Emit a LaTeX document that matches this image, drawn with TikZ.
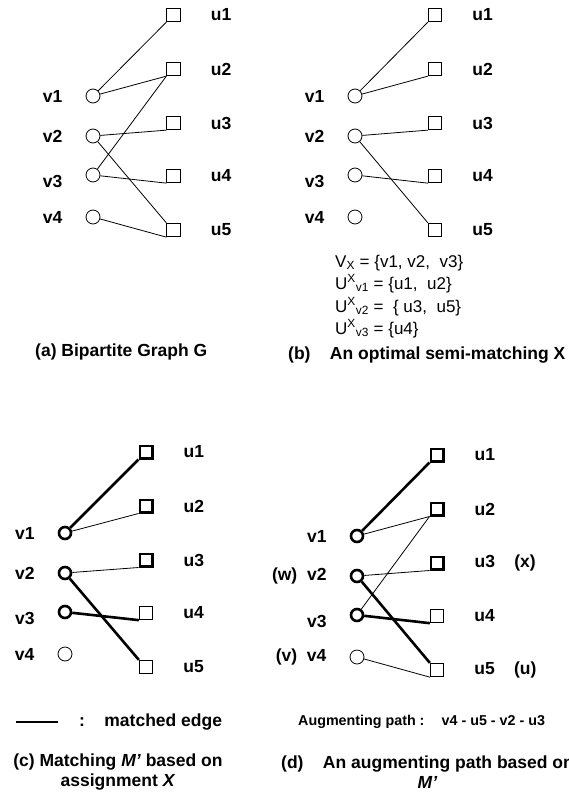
\documentclass[tikz,border=0pt]{standalone}
\usepackage{fontspec}
\setmainfont{Liberation Sans}
\usetikzlibrary{positioning}

\begin{document}
\begin{tikzpicture}[
    x=1pt, y=-1pt,
    font=\fontsize{17.5}{20}\selectfont\bfseries,
    vnode/.style={draw, circle, minimum size=14pt, inner sep=0pt, line width=0.8pt},
    unode/.style={draw, rectangle, minimum size=13.5pt, inner sep=0pt, line width=0.8pt},
    bvnode/.style={vnode, line width=2.6pt, minimum size=12pt},
    bunode/.style={unode, line width=2.6pt, minimum size=12.4pt},
    vlab/.style={inner sep=0pt, xshift=-23pt},
    ulab/.style={inner sep=0pt, xshift=30pt},
    thinedge/.style={line width=0.8pt},
    medge/.style={line width=2.6pt},
    setlab/.style={font=\fontsize{17}{19}\selectfont\mdseries, anchor=base west, inner sep=0pt},
    captext/.style={font=\fontsize{17.5}{20}\selectfont\bfseries, align=center, inner sep=0pt},
]
\useasboundingbox (0,0) rectangle (569,795);

% ============ (a) BIPARTITE GRAPH ============
\foreach \i/\y/\d in {1/96/0, 2/136/0, 3/175/-6, 4/217/0}
    \node[vnode, label={[vlab, yshift=\d pt]left:v\i}] (a-v\i) at (93,\y) {};
\foreach \i/\y in {1/15, 2/69, 3/123, 4/176, 5/230}
    \node[unode, label={[ulab]right:u\i}] (a-u\i) at (173.5,\y) {};

\draw[thinedge] (a-v1) -- (a-u1.south west);
\draw[thinedge] (a-v1) -- (a-u2.south west);
\draw[thinedge] (a-v2) -- (a-u3.south west);
\draw[thinedge] (a-v2) -- (a-u5.north west);
\draw[thinedge] (a-v3) -- (a-u2.south west);
\draw[thinedge] (a-v3) -- (a-u4.south west);
\draw[thinedge] (a-v4) -- (a-u5.south west);

\node[captext, anchor=west] (capa) at (35,352) {(a) Bipartite Graph G};

% ============ (b) SEMI-MATCHING X ============
\foreach \i/\y/\d in {1/96/0, 2/136/0, 3/175/-6, 4/217/0}
    \node[vnode, label={[vlab, yshift=\d pt]left:v\i}] (b-v\i) at (355,\y) {};
\foreach \i/\y in {1/15, 2/69, 3/123, 4/176, 5/230}
    \node[unode, label={[ulab]right:u\i}] (b-u\i) at (435,\y) {};

\draw[thinedge] (b-v1) -- (b-u1.south west);
\draw[thinedge] (b-v1) -- (b-u2.south west);
\draw[thinedge] (b-v2) -- (b-u3.south west);
\draw[thinedge] (b-v2) -- (b-u5.north west);
\draw[thinedge] (b-v3) -- (b-u4.south west);

\node[setlab] (vx)  at (335,267) {V\textsubscript{X} = \{v1, v2,\ \ v3\}};
\node[setlab] (ux1) at (335,289) {U\textsuperscript{X}\textsubscript{v1} = \{u1,\ \ u2\}};
\node[setlab] (ux2) at (335,312) {U\textsuperscript{X}\textsubscript{v2} = \ \{ u3,\ \ u5\}};
\node[setlab] (ux3) at (335,334) {U\textsuperscript{X}\textsubscript{v3} = \{u4\}};

\node[captext, anchor=west] (capb) at (288,355) {(b)\ \ \ \ An optimal semi-matching X};

% ============ (c) MATCHING M' ============
\begin{scope}[shift={(0,437)}]
\foreach \i/\y/\d/\s in {1/96/0/bvnode, 2/136/0/bvnode, 3/175/-6/bvnode, 4/217/0/vnode}
    \node[\s, label={[vlab, yshift=\d pt]left:v\i}] (c-v\i) at (65,\y) {};
\foreach \i/\y/\s in {1/15/bunode, 2/69/bunode, 3/123/bunode, 4/176/unode, 5/230/unode}
    \node[\s, label={[ulab]right:u\i}] (c-u\i) at (146,\y) {};

\draw[medge]    (c-v1) -- (c-u1.south west);
\draw[thinedge] (c-v1) -- (c-u2.south west);
\draw[thinedge] (c-v2) -- (c-u3.south west);
\draw[medge]    (c-v2) -- (c-u5.north west);
\draw[medge]    (c-v3) -- (c-u4.south west);
\end{scope}

% legend
\coordinate (m1) at (16,722);
\coordinate (m2) at (58,722);
\draw[medge] (m1) -- (m2);
\node[right=21pt of m2, inner sep=0pt] (mcolon) {:};
\node[right=19pt of mcolon, inner sep=0pt] (mtext) {matched edge};

\node[captext] (capc) at (118,772) {(c) Matching \textit{M'} based on\\assignment \textit{X}};

% ============ (d) AUGMENTING PATH ============
\begin{scope}[shift={(0,440)}]
\foreach \i/\y/\d/\s/\t in {1/96/0/bvnode/v1, 2/136/0/bvnode/{(w)\ \ v2}, 3/175/-6/bvnode/v3, 4/217/0/vnode/{(v)\ \ v4}}
    \node[\s, label={[vlab, yshift=\d pt]left:\t}] (d-v\i) at (357,\y) {};
\foreach \i/\y/\s/\t in {1/15/bunode/u1, 2/69/bunode/u2, 3/123/bunode/{u3\hspace{1.1em}(x)}, 4/176/unode/u4, 5/230/unode/{u5\hspace{1.1em}(u)}}
    \node[\s, label={[ulab]right:\t}] (d-u\i) at (437,\y) {};

\draw[medge]    (d-v1) -- (d-u1.south west);
\draw[thinedge] (d-v1) -- (d-u2.south west);
\draw[thinedge] (d-v2) -- (d-u3.south west);
\draw[medge]    (d-v2) -- (d-u5.north west);
\draw[thinedge] (d-v3) -- (d-u2.south west);
\draw[medge]    (d-v3) -- (d-u4.south west);
\draw[thinedge] (d-v4) -- (d-u5.south west);
\end{scope}

\node[anchor=west, inner sep=0pt, font=\fontsize{14.3}{16}\selectfont\bfseries] (aug) at (298,722)
    {Augmenting path :\hspace{1.2em}v4 - u5 - v2 - u3};

\node[captext, anchor=west] (capd) at (281,772) {(d)\ \ \ \ An augmenting path based on\\\textit{M'}};

\end{tikzpicture}
\end{document}
